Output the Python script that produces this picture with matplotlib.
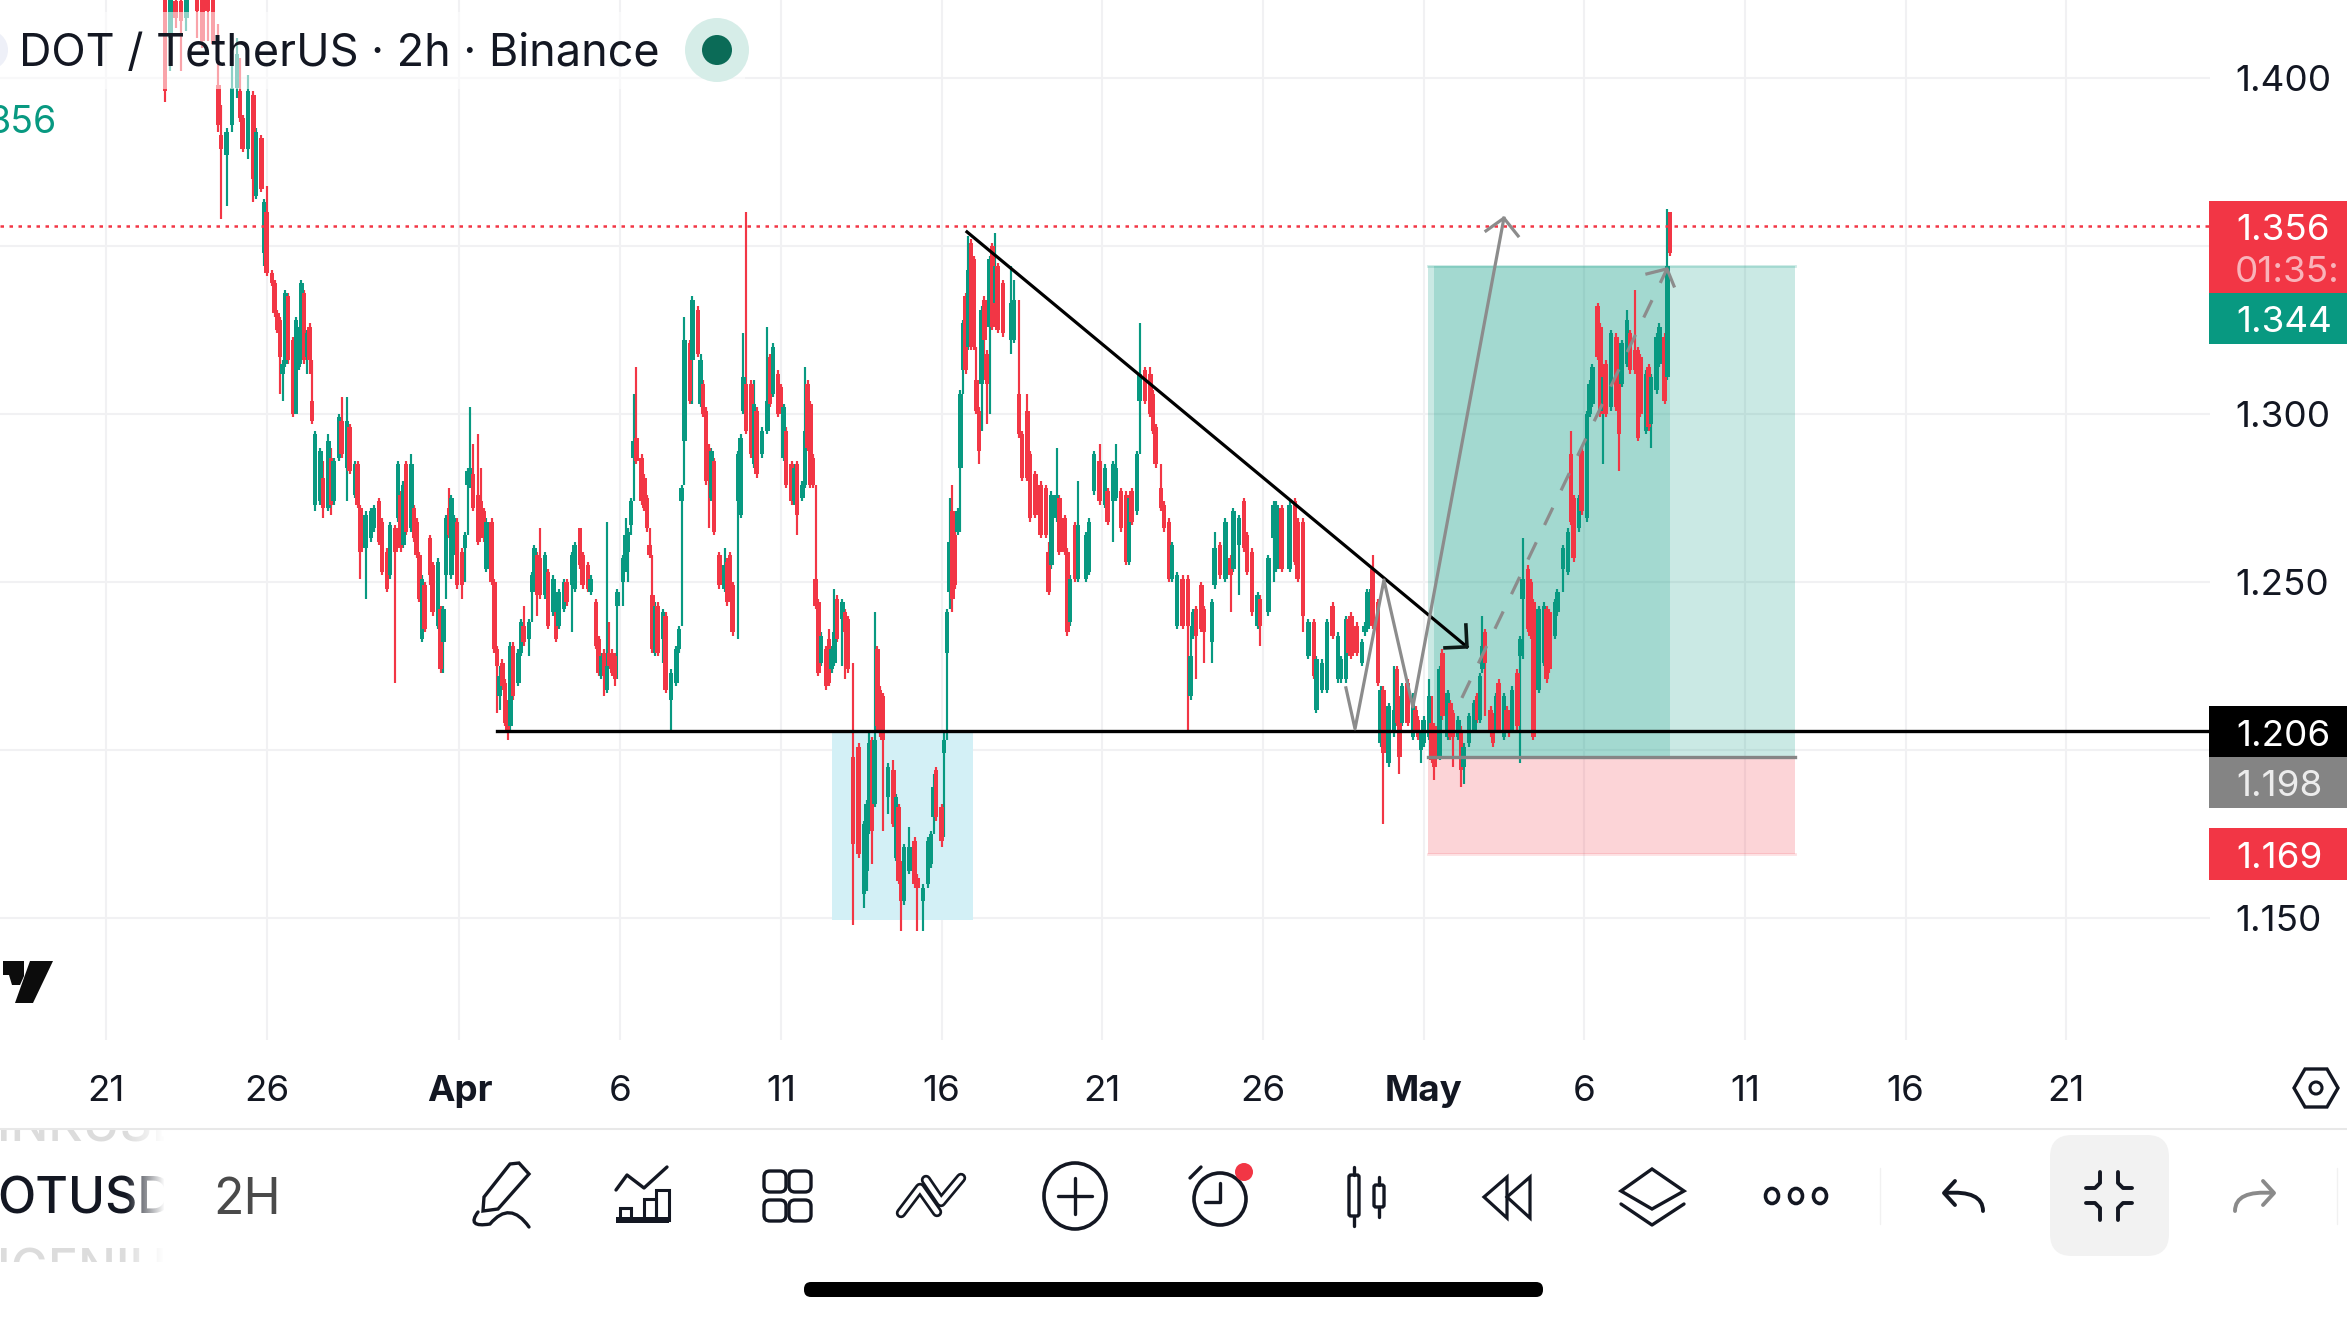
import numpy as np
import matplotlib
matplotlib.use("Agg")
import matplotlib.pyplot as plt
from matplotlib.patches import Rectangle, Circle, Ellipse, FancyBboxPatch, Polygon, PathPatch
from matplotlib.path import Path

plt.rcParams['font.family'] = ['Inter', 'DejaVu Sans']

# ---- data: 2h bar index counted from 21 March, prices in 1/1000 USDT ----
bars = [22,24,26,28,30,34,36,38,40,42,
43,45,47,49,50,51,53,55,56,58,
59,60,62,63,64,65,66,67,68,70,
71,72,73,74,75,76,77,78,80,81,
83,84,85,87,88,90,91,93,94,95,
97,99,100,102,103,105,106,108,109,110,
111,112,114,115,116,117,118,119,121,122,
124,125,126,127,128,129,130,131,133,134,
135,136,137,139,140,141,142,144,145,146,
147,148,149,150,151,152,154,155,156,158,
159,160,161,162,164,165,167,168,169,171,
172,174,175,177,178,180,181,183,184,185,
186,187,188,189,190,191,193,194,195,196,
197,198,200,201,202,203,204,205,206,208,
209,211,213,214,215,216,218,219,221,222,
223,224,225,226,227,229,231,232,233,234,
236,237,238,239,241,242,243,245,247,248,
249,251,252,253,254,256,257,258,260,261,
262,263,264,265,266,267,269,270,271,272,
273,275,276,277,279,281,283,284,285,286,
287,288,289,290,292,294,295,296,297,298,
300,302,303,305,307,308,309,310,312,313,
314,315,316,317,318,319,320,321,322,323,
324,325,326,327,328,329,330,331,332,333,
335,338,339,341,342,344,345,347,349,351,
352,353,355,356,358,359,360,362,363,366,
367,369,371,373,374,376,377,379,381,382,
383,385,386,388,390,391,392,394,395,397,
398,400,402,404,405,406,407,409,410,413,
414,416,418,420,421,423,425,426,428,430,
431,434,436,437,439,442,444,445,447,449,
451,452,454,456,458,460,461,463,464,465,
467,469,470,471,472,473,475,476,477,479,
481,482,483,484,486,488,489,490,491,492,
494,495,496,498,499,501,502,503,505,506,
507,509,511,512,513,514,515,517,518,519,
520,522,523,524,525,527,528,529,531,532,
533,535,537,538,539,541,542,544,546,547,
548,550,551,553,554,555,557,558,559,560,
562,564,565,566,568,569,571,572,573,575,
576,577,579,580,582,583,584]

opens = [1430,1412,1423,1423,1418,1430,1428,1427,1425,1398,
1383,1377,1386,1397,1396,1388,1379,1395,1365,1382,
1348,1360,1342,1339,1330,1328,1312,1315,1335,1322,
1300,1314,1316,1336,1317,1326,1304,1273,1274,1281,
1272,1287,1274,1287,1298,1284,1296,1276,1285,1272,
1260,1263,1266,1274,1268,1259,1252,1266,1269,1276,
1261,1285,1266,1272,1268,1258,1233,1249,1263,1255,
1237,1242,1232,1252,1272,1252,1259,1268,1259,1260,
1279,1279,1282,1276,1274,1271,1254,1268,1250,1230,
1216,1226,1220,1214,1207,1231,1220,1229,1237,1233,
1247,1248,1258,1257,1246,1253,1241,1241,1237,1242,
1250,1249,1248,1266,1258,1255,1247,1244,1233,1222,
1229,1218,1229,1229,1228,1243,1250,1254,1259,1267,
1287,1293,1287,1281,1275,1261,1246,1229,1243,1233,
1240,1215,1220,1230,1274,1292,1321,1316,1331,1303,
1309,1301,1290,1275,1286,1258,1248,1256,1258,1249,
1274,1270,1301,1309,1309,1285,1301,1288,1295,1317,
1306,1312,1308,1287,1295,1285,1274,1285,1275,1279,
1309,1303,1287,1251,1244,1226,1230,1233,1224,1226,
1245,1239,1241,1239,1198,1201,1157,1164,1176,1203,
1184,1230,1218,1216,1186,1194,1168,1183,1166,1155,
1164,1173,1162,1155,1160,1166,1180,1194,1183,1199,
1229,1247,1271,1264,1265,1284,1313,1335,1320,1351,
1346,1310,1301,1309,1334,1318,1326,1350,1333,1344,
1339,1322,1322,1306,1294,1301,1288,1282,1279,1278,
1259,1255,1269,1275,1269,1259,1238,1267,1251,1251,
1253,1277,1286,1273,1277,1274,1275,1277,1276,1256,
1277,1271,1304,1313,1312,1306,1296,1278,1273,1268,
1251,1237,1251,1251,1216,1234,1242,1249,1242,1232,
1249,1261,1251,1257,1254,1261,1274,1264,1259,1237,
1245,1241,1263,1254,1272,1254,1274,1268,1268,1228,
1238,1212,1218,1218,1243,1221,1221,1221,1239,1240,
1237,1226,1235,1236,1242,1254,1244,1202,1218,1196,
1205,1224,1215,1208,1220,1204,1212,1209,1200,1202,
1204,1208,1207,1198,1229,1204,1214,1211,1204,1206,
1195,1202,1206,1216,1209,1224,1235,1212,1210,1206,
1220,1204,1212,1211,1206,1223,1228,1245,1254,1250,
1244,1218,1226,1242,1241,1234,1241,1254,1253,1288,
1275,1266,1289,1269,1300,1303,1332,1326,1301,1315,
1302,1323,1312,1309,1315,1324,1319,1319,1317,1295,
1314,1297,1307,1315,1323,1311,1360]

closes = [1396,1426,1418,1417,1425,1420,1411,1420,1410,1386,
1379,1384,1397,1407,1388,1379,1396,1370,1384,1367,
1363,1342,1339,1330,1325,1317,1315,1336,1316,1300,
1328,1325,1339,1316,1324,1316,1298,1294,1289,1272,
1292,1273,1286,1299,1288,1298,1283,1285,1273,1259,
1270,1271,1272,1262,1253,1248,1267,1259,1285,1260,
1279,1265,1285,1263,1258,1245,1251,1236,1252,1241,
1256,1224,1242,1269,1264,1275,1269,1249,1249,1264,
1283,1284,1272,1262,1267,1263,1268,1250,1230,1225,
1222,1219,1208,1206,1231,1216,1229,1238,1232,1238,
1252,1260,1246,1246,1258,1237,1251,1233,1247,1250,
1244,1258,1261,1255,1249,1248,1251,1231,1223,1228,
1222,1225,1225,1223,1221,1247,1257,1264,1265,1274,
1292,1286,1274,1272,1266,1258,1230,1243,1229,1241,
1218,1223,1230,1236,1278,1322,1304,1334,1318,1316,
1300,1280,1282,1289,1265,1249,1255,1244,1247,1235,
1288,1293,1311,1295,1288,1303,1282,1295,1304,1303,
1320,1300,1301,1302,1279,1274,1284,1270,1279,1295,
1290,1279,1279,1243,1223,1234,1219,1220,1230,1235,
1233,1244,1235,1224,1172,1169,1178,1184,1202,1176,
1203,1207,1205,1203,1195,1178,1186,1161,1155,1171,
1171,1160,1159,1159,1173,1175,1189,1180,1173,1203,
1241,1262,1245,1249,1271,1306,1327,1313,1343,1320,
1320,1301,1289,1331,1322,1309,1346,1326,1344,1325,
1324,1333,1334,1294,1281,1281,1269,1270,1264,1264,
1247,1276,1276,1259,1259,1235,1251,1251,1267,1264,
1268,1288,1274,1284,1268,1285,1284,1266,1256,1275,
1268,1288,1312,1304,1300,1295,1285,1272,1266,1251,
1261,1252,1237,1237,1228,1241,1234,1236,1235,1244,
1260,1252,1268,1252,1271,1269,1260,1253,1241,1246,
1237,1257,1273,1273,1254,1273,1256,1251,1240,1238,
1222,1227,1226,1238,1234,1234,1227,1239,1229,1228,
1229,1232,1237,1247,1247,1237,1220,1218,1199,1213,
1212,1208,1198,1219,1208,1216,1206,1204,1205,1209,
1216,1197,1195,1224,1210,1217,1204,1204,1209,1194,
1201,1210,1214,1209,1222,1231,1226,1205,1202,1216,
1206,1216,1206,1205,1218,1207,1233,1251,1236,1234,
1204,1242,1243,1221,1224,1244,1247,1260,1265,1268,
1257,1275,1271,1300,1309,1314,1317,1300,1311,1300,
1324,1302,1294,1321,1328,1313,1313,1293,1300,1312,
1296,1311,1323,1326,1304,1344,1348]

highs = [1430,1430,1430,1430,1430,1430,1430,1430,1430,1416,
1392,1385,1412,1412,1406,1389,1401,1396,1385,1383,
1364,1368,1343,1340,1331,1329,1316,1337,1336,1323,
1329,1326,1340,1337,1325,1327,1316,1295,1290,1286,
1294,1290,1287,1300,1305,1305,1297,1286,1286,1273,
1271,1272,1273,1275,1269,1260,1268,1267,1286,1277,
1280,1286,1288,1273,1269,1259,1252,1250,1264,1256,
1257,1243,1243,1270,1278,1276,1270,1269,1260,1265,
1284,1302,1291,1294,1284,1272,1269,1269,1251,1231,
1225,1227,1221,1215,1232,1232,1230,1239,1243,1239,
1253,1261,1259,1266,1259,1254,1252,1242,1248,1251,
1251,1259,1262,1266,1259,1256,1252,1245,1234,1229,
1230,1268,1238,1230,1229,1248,1258,1269,1266,1275,
1306,1314,1288,1282,1276,1266,1258,1244,1244,1242,
1241,1224,1231,1237,1279,1329,1322,1335,1332,1318,
1310,1302,1291,1290,1287,1259,1260,1257,1259,1250,
1289,1294,1324,1360,1310,1310,1302,1296,1326,1318,
1321,1313,1309,1303,1296,1286,1285,1286,1280,1314,
1310,1304,1288,1279,1245,1235,1231,1236,1231,1248,
1246,1245,1242,1240,1226,1202,1179,1185,1205,1204,
1241,1231,1219,1217,1196,1197,1187,1184,1167,1172,
1177,1174,1163,1160,1174,1176,1193,1195,1184,1205,
1242,1275,1279,1266,1272,1307,1328,1336,1353,1352,
1347,1320,1302,1332,1335,1319,1347,1351,1354,1345,
1340,1344,1340,1334,1295,1306,1289,1283,1280,1279,
1262,1277,1290,1276,1270,1260,1252,1268,1280,1265,
1269,1289,1291,1285,1278,1286,1291,1278,1277,1276,
1278,1289,1327,1314,1314,1307,1297,1285,1274,1269,
1262,1253,1252,1252,1237,1242,1243,1250,1243,1245,
1265,1262,1269,1258,1272,1270,1275,1265,1260,1247,
1246,1258,1274,1274,1273,1274,1275,1269,1269,1239,
1239,1228,1227,1239,1244,1235,1228,1240,1240,1241,
1238,1233,1238,1248,1248,1258,1245,1219,1219,1214,
1225,1225,1216,1220,1221,1217,1213,1210,1206,1210,
1221,1216,1208,1225,1230,1218,1215,1212,1210,1207,
1202,1211,1215,1217,1223,1240,1236,1213,1211,1217,
1221,1217,1213,1212,1219,1224,1234,1263,1255,1251,
1245,1243,1244,1243,1242,1245,1248,1261,1266,1295,
1276,1276,1290,1301,1310,1315,1333,1327,1312,1316,
1325,1324,1313,1322,1331,1325,1337,1320,1318,1313,
1315,1312,1324,1327,1324,1361,1360]

lows = [1393,1402,1415,1402,1414,1412,1409,1411,1410,1384,
1358,1362,1384,1394,1387,1378,1376,1363,1364,1366,
1344,1341,1338,1329,1324,1306,1304,1314,1315,1299,
1300,1313,1315,1315,1312,1312,1297,1271,1273,1269,
1271,1270,1273,1286,1287,1274,1282,1275,1272,1251,
1245,1262,1265,1261,1252,1247,1251,1220,1268,1259,
1260,1264,1265,1262,1257,1244,1232,1235,1249,1240,
1236,1223,1223,1245,1263,1251,1258,1248,1245,1250,
1264,1278,1271,1261,1266,1262,1253,1249,1229,1211,
1212,1218,1207,1203,1206,1215,1219,1228,1231,1228,
1238,1247,1240,1245,1245,1236,1240,1232,1236,1241,
1243,1235,1247,1254,1248,1247,1246,1230,1222,1221,
1216,1217,1224,1222,1219,1221,1243,1253,1250,1264,
1274,1285,1273,1271,1265,1257,1229,1228,1228,1226,
1217,1205,1219,1229,1237,1279,1303,1303,1317,1302,
1299,1279,1266,1274,1264,1248,1247,1243,1246,1234,
1233,1269,1300,1294,1287,1284,1281,1287,1294,1302,
1305,1299,1300,1286,1278,1273,1273,1264,1274,1278,
1289,1278,1278,1242,1222,1225,1218,1219,1223,1225,
1232,1225,1221,1223,1148,1168,1153,1158,1175,1166,
1183,1206,1204,1176,1181,1177,1167,1160,1146,1154,
1163,1159,1146,1146,1159,1165,1175,1179,1171,1174,
1203,1242,1241,1248,1264,1265,1306,1312,1319,1319,
1319,1300,1285,1295,1310,1297,1300,1325,1332,1324,
1323,1318,1321,1293,1280,1280,1268,1269,1263,1263,
1246,1254,1268,1258,1258,1234,1237,1250,1250,1250,
1252,1276,1273,1272,1267,1262,1274,1265,1255,1255,
1267,1270,1288,1303,1299,1294,1284,1271,1265,1250,
1250,1236,1236,1205,1215,1233,1221,1235,1226,1226,
1248,1251,1250,1241,1253,1246,1259,1252,1240,1236,
1231,1240,1250,1253,1253,1253,1255,1250,1235,1227,
1221,1211,1217,1217,1233,1220,1220,1220,1228,1227,
1228,1225,1234,1235,1241,1236,1219,1201,1178,1195,
1204,1207,1193,1207,1207,1203,1205,1203,1196,1201,
1203,1196,1191,1197,1209,1203,1203,1195,1203,1189,
1190,1201,1205,1208,1208,1223,1210,1204,1201,1205,
1205,1203,1205,1204,1205,1206,1196,1227,1235,1233,
1203,1217,1225,1220,1223,1233,1240,1247,1252,1267,
1256,1265,1270,1268,1299,1302,1316,1299,1285,1299,
1301,1301,1283,1308,1314,1312,1312,1292,1299,1294,
1295,1290,1306,1314,1303,1310,1347]

tick_bars = [0,60,132,192,252,312,372,432,492,552,612,672,732]
tick_labels = ['21','26','Apr','6','11','16','21','26','May','6','11','16','21']
price_ticks = [1.15,1.20,1.25,1.30,1.35,1.40]
price_labels = ['1.150','','1.250','1.300','','1.400']

last_price = 1.356
support = 1.2056
entry = 1.198
target = 1.344
stop = 1.169
trend_x = [321.5, 508.2]
trend_y = [1.3542, 1.2307]
trend_head_x = [500, 508.2, 507.8]
trend_head_y = [1.2304, 1.2307, 1.2372]
path_x = [463, 466.4, 477.2, 488, 522]
path_y = [1.2185, 1.2063, 1.2506, 1.2128, 1.3583]
path_head_x = [515.3, 522, 527.3]
path_head_y = [1.3545, 1.3583, 1.3530]
dash_x = [506.3, 582.9]
dash_y = [1.2155, 1.3432]
dash_head_x = [575.4, 582.9, 585.5]
dash_head_y = [1.3417, 1.3432, 1.3381]

RED = '#f23645'
GREEN = '#089981'
W, H = 2347, 1320
fig = plt.figure(figsize=(W/100, H/100), dpi=100, facecolor='white')

# ---- chart ----
ax = fig.add_axes([0, (H-1040)/H, 2210/W, 1040/H])
ax.set_xlim(-106/2.678, (2210-106)/2.678)
ax.set_ylim(1.15+(918-1040)/3360, 1.15+918/3360)
for s in ax.spines.values():
    s.set_visible(False)
ax.set_xticks(tick_bars)
ax.set_xticklabels(tick_labels)
ax.set_yticks(price_ticks)
ax.set_yticklabels(price_labels)
ax.yaxis.tick_right()
ax.tick_params(axis='x', length=0, pad=25, labelsize=26.5, colors='#131722')
ax.tick_params(axis='y', length=0, pad=18, labelsize=26.5, colors='#131722')
for t in ax.get_xticklabels():
    if t.get_text() in ('Apr', 'May'):
        t.set_fontweight('bold')
ax.grid(True, color='#f1f1f3', lw=1.5)
ax.set_axisbelow(True)

x = np.array(bars, dtype=float)
o, c = np.array(opens)/1000, np.array(closes)/1000
h, l = np.array(highs)/1000, np.array(lows)/1000
cols = np.where(c >= o, GREEN, RED)

# position tool + rectangle, under the candles
ax.add_patch(Rectangle((271, support), 52.7, 1.1494-support, fc='#d3f0f6', ec='none', zorder=1))
ax.add_patch(Rectangle((493.6, entry), 137.1, target-entry, fc=GREEN, alpha=0.21, ec='none', zorder=1))
ax.add_patch(Rectangle((493.6, stop), 137.1, entry-stop, fc=RED, alpha=0.21, ec='none', zorder=1))
ax.add_patch(Rectangle((496, entry), 88, target-entry, fc=GREEN, alpha=0.2, ec='none', zorder=1))
ax.plot([493.6, 630.7], [target, target], color=GREEN, alpha=0.2, lw=2, zorder=1)
ax.plot([493.6, 630.7], [stop, stop], color=RED, alpha=0.15, lw=2, zorder=1)

ax.vlines(x, l, h, colors=cols, lw=1.55, zorder=3)
ax.bar(x, np.abs(c-o), bottom=np.minimum(o, c), width=1.7, color=cols, lw=0, zorder=3)

ax.axhline(last_price, color=RED, lw=1.8, ls=(0, (1.4, 2.2)), zorder=4)
ax.plot([(497-106)/2.678, (2210-106)/2.678], [support, support], color='black', lw=2.4, zorder=4)
ax.plot([493.6, 630.7], [entry, entry], color='#858585', lw=2.4, zorder=4)
ax.plot(trend_x, trend_y, color='black', lw=2.3, zorder=5)
ax.plot(trend_head_x, trend_head_y, color='#0c1a17', lw=2.6, zorder=5)
ax.plot(path_x, path_y, color='#8c8c8c', lw=2.3, zorder=5)
ax.plot(path_head_x, path_head_y, color='#8c8c8c', lw=2.3, zorder=5)
ax.plot(dash_x, dash_y, color='#8c8c8c', lw=2.3, ls=(0, (6, 6)), zorder=5)
ax.plot(dash_head_x, dash_head_y, color='#8c8c8c', lw=2.3, zorder=5)

# ---- screen chrome, in screen pixels ----
ui = fig.add_axes([0, 0, 1, 1], facecolor='none')
ui.set_xlim(0, W)
ui.set_ylim(H, 0)
ui.axis('off')

INK = '#131722'
def line(xs, ys, color=INK, lw=2.4, **k):
    ui.plot(xs, ys, color=color, lw=lw, solid_capstyle='round', solid_joinstyle='round', **k)
def rrect(x0, y0, w, h, r, fc='none', ec=INK, lw=2.4):
    ui.add_patch(FancyBboxPatch((x0+r, y0+r), w-2*r, h-2*r,
                 boxstyle=f'round,pad={r},rounding_size={r}', fc=fc, ec=ec, lw=lw))
def curve(pts, color=INK, lw=2.4):
    codes = [Path.MOVETO] + [Path.CURVE3]*(len(pts)-1)
    ui.add_patch(PathPatch(Path(pts, codes), fc='none', ec=color, lw=lw, capstyle='round'))

# header veil, title, status dot
ui.add_patch(Rectangle((0, 12), 745, 77, fc='white', alpha=0.55, ec='none'))
ui.add_patch(Ellipse((-12, 50), 40, 40, fc='#eef0f8', ec='none'))
ui.text(19, 54, 'DOT / TetherUS · 2h · Binance', fontsize=32.4, color=INK, va='center', ha='left')
ui.add_patch(Circle((717, 50), 32, fc='#d6ede8', ec='none'))
ui.add_patch(Circle((717, 50), 15, fc='#0b6b57', ec='none'))
ui.text(57, 123, '356', fontsize=27, color=GREEN, va='center', ha='right')

# price tags
tags = [('1.356', 201, 293, RED, 230, 'white'), ('1.344', 293, 344, GREEN, 323, 'white'),
        ('1.206', 706, 757, 'black', 736, 'white'), ('1.198', 757, 808, '#848484', 787, '#ececec'),
        ('1.169', 828, 880, RED, 858, 'white')]
for txt, y0, y1, fc, yt, tc in tags:
    ui.add_patch(Rectangle((2209, y0), 138, y1-y0, fc=fc, ec='none'))
    ui.text(2236, yt, txt, fontsize=26.5, color=tc, va='center', ha='left')
ui.text(2235, 273, '01:35:', fontsize=26.5, color='#f9b3ba', va='center', ha='left')

# logo
ui.add_patch(Polygon([(3,961),(24,961),(24,976),(20,985),(12,985),(9,975),(3,975)], fc='#0c0c0c', ec='none'))
ui.add_patch(Polygon([(30,961),(53,961),(33,1003),(15,1003)], fc='#0c0c0c', ec='none'))

# settings hexagon
ui.add_patch(Polygon([(2294,1088),(2305,1069),(2327,1069),(2338,1088),(2327,1107),(2305,1107)],
                     fc='none', ec=INK, lw=2.4))
ui.add_patch(Circle((2316, 1088), 6, fc='none', ec=INK, lw=2.2))

# separators
ui.plot([0, W], [1129, 1129], color='#e8e8e8', lw=1.5)
line([1880, 1880], [1168, 1224], color='#f1f1f1', lw=1)
line([2337, 2337], [1168, 1224], color='#f1f1f1', lw=1)

# symbol column
clip = Rectangle((0, 1130), 165, 132, transform=ui.transData)
for txt, yy, col in [('INKUSD', 1128, '#dcdcdc'), ('OTUSD', 1200, INK), ('IGENIUS', 1272, '#dcdcdc')]:
    t = ui.text(-3, yy, txt, fontsize=36, color=col, va='center', ha='left', fontweight='medium')
    t.set_clip_path(clip)
    t.set_clip_on(True)
grad = np.ones((1, 40, 4))
grad[..., 3] = np.linspace(0, 1, 40)
ui.imshow(grad, extent=(125, 165, 1262, 1130), aspect='auto', zorder=6)
ui.set_xlim(0, W)
ui.set_ylim(H, 0)
ui.text(213, 1200, '2H', fontsize=36, color='#4a4a4a', va='center', ha='left')

# pen
ui.add_patch(Polygon([(483,1211),(484,1197),(510,1164),(519,1163),(529,1174),(498,1209)], fc='none', ec=INK, lw=2.4))
curve([(478,1212),(466,1228),(490,1224),(510,1200),(529,1227)])
# indicators
line([616,627,644,667], [1190,1175,1188,1167])
ui.add_patch(Rectangle((616,1217), 53, 6, fc=INK, ec='none'))
for x0, x1, top in [(620,631,1208),(644,656,1199),(656,669,1190)]:
    ui.add_patch(Rectangle((x0, top), x1-x0, 1220-top, fc='none', ec=INK, lw=2.2))
# templates
for x0 in (764, 789):
    for y0 in (1171, 1200):
        rrect(x0, y0, 22, 21, 6)
# strategy: hollow bands
for xs, ys in [([901,920,937], [1213,1188,1212]), ([926,941,961], [1180,1202,1178])]:
    line(xs, ys, lw=7.5)
for xs, ys in [([901,920,937], [1213,1188,1212]), ([926,941,961], [1180,1202,1178])]:
    line(xs, ys, color='white', lw=3.6)
# add
ui.add_patch(Ellipse((1075,1196), 62, 66, fc='none', ec=INK, lw=2.6))
line([1075,1075], [1178,1214])
line([1058,1092], [1196,1196])
# alarm
ui.add_patch(Circle((1220,1199), 26, fc='none', ec=INK, lw=2.6))
line([1220,1220,1205], [1183,1202,1202])
line([1190,1201], [1178,1167])
ui.add_patch(Circle((1244,1172), 9, fc=RED, ec='none'))
# bar style
for cx, y0, y1, b0, b1 in [(1354,1167,1226,1175,1216),(1379,1177,1217,1185,1207)]:
    line([cx,cx], [y0,b0])
    line([cx,cx], [b1,y1])
    rrect(cx-5, b0, 10, b1-b0, 2)
# replay
ui.add_patch(Polygon([(1484,1197),(1507,1177),(1507,1218)], fc='none', ec=INK, lw=2.3))
ui.add_patch(Polygon([(1507,1197),(1530,1177),(1530,1218)], fc='none', ec=INK, lw=2.3))
# layers
ui.add_patch(Polygon([(1652,1169),(1684,1191),(1652,1209),(1621,1191)], fc='none', ec=INK, lw=2.4))
line([1621,1652,1684], [1204,1225,1204])
# more
for cx in (1772,1796,1820):
    ui.add_patch(Ellipse((cx,1196), 13, 15, fc='none', ec=INK, lw=2.6))
# undo
line([1955,1944,1955], [1181,1193,1205], lw=2.8)
curve([(1945,1193),(1983,1190),(1983,1211)], lw=2.8)
# collapse button
rrect(2050, 1135, 119, 121, 22, fc='#f2f2f2', ec='none', lw=0)
for xs, ys in [([2100,2100,2095,2086], [1172,1183,1188,1188]), ([2118,2118,2123,2132], [1172,1183,1188,1188]),
               ([2100,2100,2095,2086], [1220,1208,1203,1203]), ([2118,2118,2123,2132], [1220,1208,1203,1203])]:
    line(xs, ys, lw=2.8)
# redo
line([2263,2274,2263], [1181,1193,1205], color='#8a8a8a', lw=2.8)
curve([(2273,1193),(2235,1190),(2235,1211)], color='#8a8a8a', lw=2.8)
# home indicator
rrect(804, 1282, 739, 15, 7, fc='black', ec='none', lw=0)

fig.savefig('out.png', dpi=100, facecolor='white')
